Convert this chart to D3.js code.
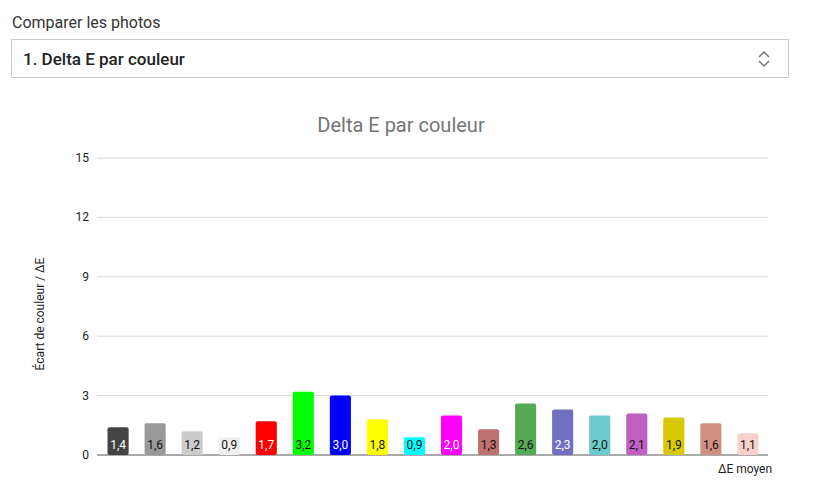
<!DOCTYPE html>
<html><head><meta charset="utf-8">
<script src="https://cdn.jsdelivr.net/npm/d3@7"></script>
<style>
body{margin:0;background:#fff;font-family:Roboto,sans-serif;}
.lbl{position:absolute;left:12px;top:13px;font-size:16px;color:#333;}
.sel{position:absolute;left:11px;top:39px;width:778px;height:39px;border:1px solid #ccc;box-sizing:border-box;}
.sel span{position:absolute;left:11px;top:9px;font-size:17px;font-weight:500;color:#222;}
</style></head><body>
<div class="lbl">Comparer les photos</div>
<div class="sel"><span>1. Delta E par couleur</span>
<svg width="20" height="20" style="position:absolute;right:14px;top:9px"><path d="M5 8 L10 3 L15 8 M5 12 L10 17 L15 12" fill="none" stroke="#777" stroke-width="1.5"/></svg></div>
<div id="chart" style="position:absolute;left:0;top:0"></div>
<script>
var values = [1.4,1.6,1.2,0.9,1.7,3.2,3.0,1.8,0.9,2.0,1.3,2.6,2.3,2.0,2.1,1.9,1.6,1.1,1.8];
values = values.slice(0,18);
var colors = ["#444444","#999999","#cccccc","#eeeeee","#ff0000","#00ff00","#0000ff","#ffff00","#00ffff","#ff00ff","#c07070","#55aa55","#7070c0","#6ccaca","#c060c0","#d8c800","#d09080","#f8d0cc","#50c850"];
colors = colors.slice(0,18);
var whiteText = [true,false,false,false,true,false,true,false,false,true,false,false,true,false,false,false,false,false];
var yTicks = [0,3,6,9,12,15];

var svg = d3.select("#chart").append("svg").attr("width",832).attr("height",485);
var x = d3.scaleBand().domain(d3.range(values.length)).range([99,767]).paddingInner(0.43).paddingOuter(0.23);
var y = d3.scaleLinear().domain([0,15]).range([455,158]);

svg.append("text").attr("x",401).attr("y",132).attr("text-anchor","middle")
  .attr("font-size","20px").attr("fill","#757575").text("Delta E par couleur");

svg.selectAll(".grid").data(yTicks).enter().append("line")
  .attr("x1",97).attr("x2",768).attr("y1",function(d){return y(d);}).attr("y2",function(d){return y(d);})
  .attr("stroke",function(d){return d===0?"#555":"#d8d8d8";});
svg.selectAll(".yt").data(yTicks).enter().append("text")
  .attr("x",89).attr("y",function(d){return y(d)+4;}).attr("text-anchor","end")
  .attr("font-size","12px").attr("fill","#222").text(function(d){return d;});

svg.selectAll(".bar").data(values).enter().append("rect")
  .attr("x",function(d,i){return x(i);}).attr("width",x.bandwidth())
  .attr("y",function(d){return y(d);}).attr("height",function(d){return y(0)-y(d);})
  .attr("rx",2).attr("fill",function(d,i){return colors[i];});
svg.selectAll(".val").data(values).enter().append("text")
  .attr("x",function(d,i){return x(i)+x.bandwidth()/2;}).attr("y",449)
  .attr("text-anchor","middle").attr("font-size","12px")
  .attr("fill",function(d,i){return whiteText[i]?"#fff":"#111";})
  .text(function(d){return d.toFixed(1).replace(".",",");});

svg.append("text").attr("x",745).attr("y",473).attr("text-anchor","middle")
  .attr("font-size","12px").attr("fill","#222").text("ΔE moyen");
svg.append("text").attr("transform","translate(44,314) rotate(-90)").attr("text-anchor","middle")
  .attr("font-size","12px").attr("fill","#222").text("Écart de couleur / ΔE");
</script></body></html>
